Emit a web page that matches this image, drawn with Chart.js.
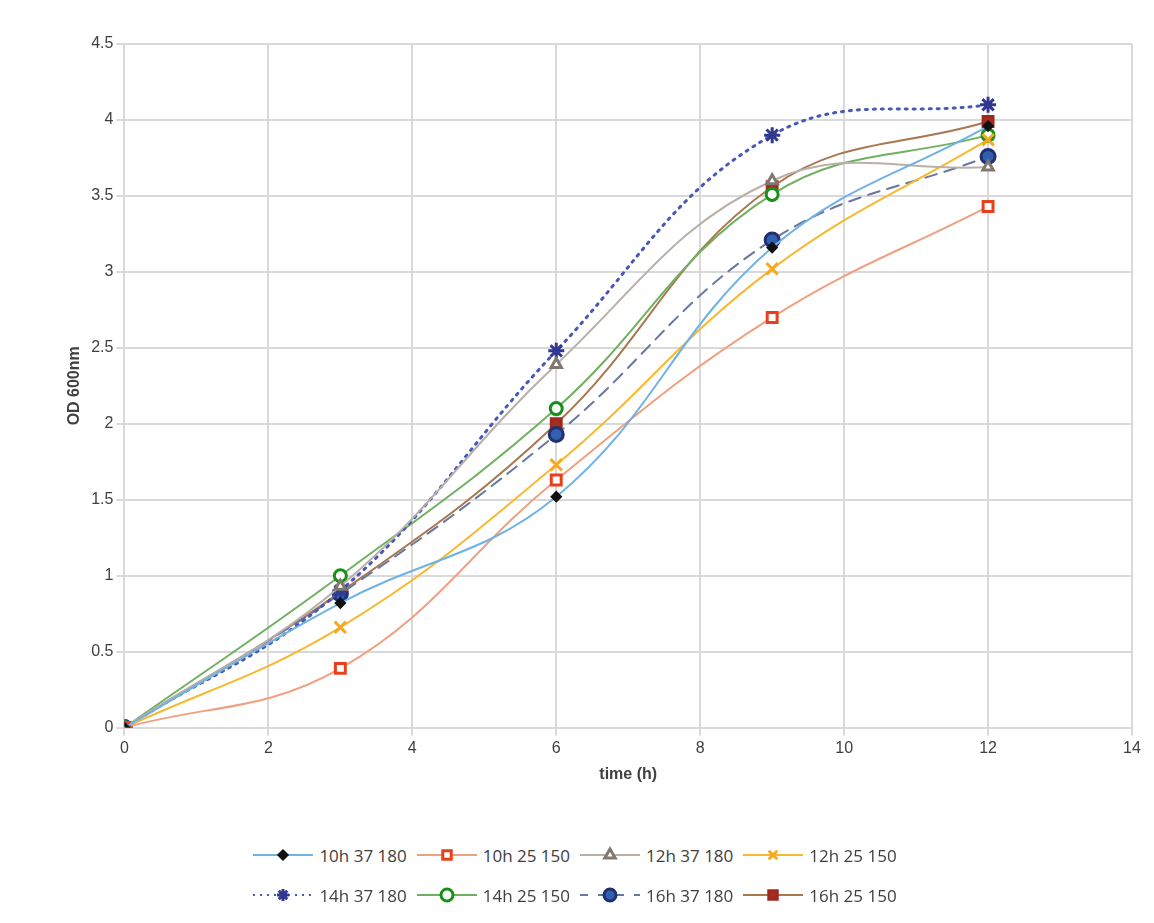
<!DOCTYPE html><html><head><meta charset="utf-8">
<script src="https://cdn.jsdelivr.net/npm/chart.js@4"></script>
<style>
body{margin:0;background:#fff;font-family:"Open Sans",sans-serif}
#wrap{position:absolute;left:0;top:0;width:1154px;height:820px}
#legend{position:absolute;left:0;top:835px;width:1154px;font-size:17px;color:#404040}
.row{display:flex;justify-content:center;gap:6px;height:40px;align-items:center}
.item{display:flex;align-items:center;gap:6px;margin-right:4px}
</style></head><body>
<div id="wrap"><canvas id="c"></canvas></div>
<div id="legend"></div>
<script>
const times=[0,3,6,9,12];
const names=["10h 37 180","10h 25 150","12h 37 180","12h 25 150","14h 37 180","14h 25 150","16h 37 180","16h 25 150"];
const s1=[0,0.82,1.52,3.16,3.96];
const s2=[0,0.39,1.63,2.70,3.43];
const s3=[0,0.93,2.39,3.60,3.69];
const s4=[0,0.66,1.73,3.02,3.87];
const s5=[0,0.90,2.48,3.90,4.10];
const s6=[0,1.00,2.10,3.51,3.90];
const s7=[0,0.88,1.93,3.21,3.76];
const s8=[0,0.89,2.00,3.56,3.99];
const series=[s1,s2,s3,s4,s5,s6,s7,s8];
const styles=[
 {line:'#6fb2e6',pt:'rectRot',pc:'#111',fill:'#111',r:4,dash:[]},
 {line:'#f0a080',pt:'rect',pc:'#e8401c',fill:'#fff',r:7,dash:[]},
 {line:'#b8b0a8',pt:'triangle',pc:'#807870',fill:'#fff',r:6,dash:[]},
 {line:'#f8b830',pt:'crossRot',pc:'#f8a820',fill:'#fff',r:8,dash:[]},
 {line:'#4858b8',pt:'star',pc:'#303890',fill:'#fff',r:8,dash:[2,6]},
 {line:'#70b060',pt:'circle',pc:'#189018',fill:'#fff',r:6,dash:[]},
 {line:'#6878a0',pt:'circle',pc:'#203070',fill:'#3060b0',r:7,dash:[12,8]},
 {line:'#a87850',pt:'rect',pc:'#a02820',fill:'#a03020',r:7,dash:[]}
];
const datasets=series.map((d,i)=>({label:names[i],data:d.map((v,j)=>({x:times[j],y:v})),
 borderColor:styles[i].line,borderWidth:i==4?3:2,borderDash:styles[i].dash,tension:0.4,
 pointStyle:styles[i].pt,pointRadius:styles[i].r,pointBorderColor:styles[i].pc,
 pointBackgroundColor:styles[i].fill,pointBorderWidth:3,borderCapStyle:'round'}));
new Chart(document.getElementById('c'),{type:'line',data:{datasets},
options:{responsive:true,maintainAspectRatio:false,animation:false,
layout:{padding:{left:61,right:22,top:44,bottom:32}},
plugins:{legend:{display:false},tooltip:{enabled:false}},
scales:{x:{type:'linear',min:0,max:14,ticks:{stepSize:2,color:'#404040',font:{size:16}},
 grid:{color:'#d9d9d9',lineWidth:2},border:{color:'#d9d9d9'},
 title:{display:true,text:'time (h)',font:{size:16,weight:'bold'},color:'#404040'}},
 y:{min:0,max:4.5,ticks:{stepSize:0.5,color:'#404040',font:{size:16},callback:v=>String(v)},
 grid:{color:'#d9d9d9',lineWidth:2},border:{display:false},
 title:{display:true,text:'OD 600nm',font:{size:16,weight:'bold'},color:'#404040'}}}}});
const leg=document.getElementById('legend');
[[0,1,2,3],[4,5,6,7]].forEach(r=>{const row=document.createElement('div');row.className='row';
r.forEach(i=>{const s=styles[i];const it=document.createElement('div');it.className='item';
const cv=document.createElement('canvas');cv.width=60;cv.height=20;const g=cv.getContext('2d');
g.strokeStyle=s.line;g.lineWidth=2;g.setLineDash(s.dash.length?(i==4?[2,5]:[8,10]):[]);g.beginPath();g.moveTo(0,10);g.lineTo(60,10);g.stroke();g.setLineDash([]);
g.fillStyle=s.fill;g.strokeStyle=s.pc;g.lineWidth=3;
Chart.helpers.drawPoint(g,{pointStyle:s.pt,radius:Math.min(s.r,6),borderWidth:3},30,10);
it.appendChild(cv);const t=document.createElement('span');t.textContent=names[i];it.appendChild(t);row.appendChild(it);});
leg.appendChild(row);});
</script></body></html>
